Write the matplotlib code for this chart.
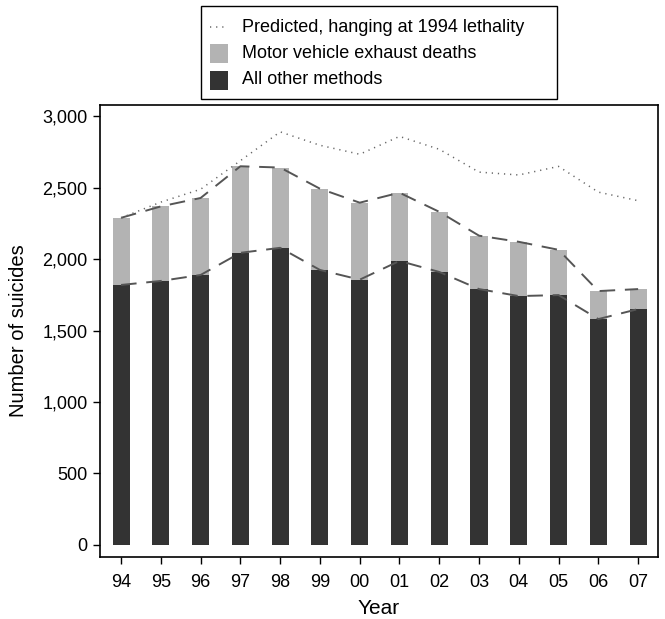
import matplotlib
matplotlib.use("Agg")
import matplotlib.pyplot as plt
from matplotlib.lines import Line2D
from matplotlib.patches import Rectangle

plt.rcParams['font.family'] = ['Liberation Sans', 'DejaVu Sans']

years = ["94", "95", "96", "97", "98", "99", "00", "01", "02", "03", "04", "05", "06", "07"]
other_methods = [1820, 1848, 1890, 2045, 2080, 1925, 1857, 1988, 1911, 1791, 1742, 1749, 1581, 1651]
total = [2290, 2370, 2429, 2651, 2642, 2494, 2396, 2466, 2332, 2165, 2122, 2066, 1777, 1791]
predicted = [2290, 2400, 2490, 2690, 2892, 2798, 2735, 2860, 2770, 2610, 2590, 2650, 2470, 2410]
motor = [t - o for t, o in zip(total, other_methods)]
legend_labels = ["Predicted, hanging at 1994 lethality", "Motor vehicle exhaust deaths", "All other methods"]

W, H = 665, 619
fig = plt.figure(figsize=(W / 100, H / 100), dpi=100)
ax = fig.add_axes([100 / W, 1 - 557 / H, 558 / W, 452 / H])

x = list(range(len(years)))
dark = "#333333"
light = "#b3b3b3"
dot_color = "#666666"
ax.bar(x, other_methods, width=0.43, color=dark, zorder=2, linewidth=0)
ax.bar(x, motor, width=0.43, bottom=other_methods, color=light, zorder=2, linewidth=0)
ax.plot(x, total, color="#555555", lw=1.4, dashes=(8, 5), zorder=3)
ax.plot(x, other_methods, color="#555555", lw=1.4, dashes=(8, 5), zorder=3)
ax.plot(x, predicted, color=dot_color, lw=1.1, dashes=(0.8, 3.2), zorder=3)

ax.set_xlim(-0.53, 13.5)
ax.set_ylim(-85, 3080)
ax.set_xticks(x)
ax.set_xticklabels(years)
ax.set_yticks([0, 500, 1000, 1500, 2000, 2500, 3000])
ax.set_yticklabels(["0", "500", "1,000", "1,500", "2,000", "2,500", "3,000"])
ax.tick_params(axis='both', direction='out', length=5, width=1, labelsize=13, pad=4)
ax.tick_params(axis='x', pad=7)
for s in ax.spines.values():
    s.set_linewidth(1.2)
ax.set_xlabel("Year", fontsize=15, labelpad=6)
ax.set_ylabel("Number of suicides", fontsize=14.5, labelpad=10)

# legend drawn in figure pixel positions
def fx(px):
    return px / W

def fy(py):
    return 1 - py / H

fig.add_artist(Rectangle((fx(201), fy(99)), fx(557) - fx(201), fy(6) - fy(99),
                         transform=fig.transFigure, facecolor='white', edgecolor='black', lw=1.0))
row_y = [27, 53, 80]
fig.add_artist(Line2D([fx(210), fx(228)], [fy(row_y[0]), fy(row_y[0])], transform=fig.transFigure,
                      color=dot_color, lw=1.1, dashes=(0.8, 3.2)))
for ry, col in zip(row_y[1:], [light, dark]):
    fig.add_artist(Rectangle((fx(210), fy(ry + 9.5)), 18 / W, 19 / H, transform=fig.transFigure,
                             facecolor=col, edgecolor='none'))
for ry, lab in zip(row_y, legend_labels):
    fig.text(fx(242), fy(ry), lab, fontsize=13, va='center', ha='left')

fig.savefig("out.png", dpi=100)
